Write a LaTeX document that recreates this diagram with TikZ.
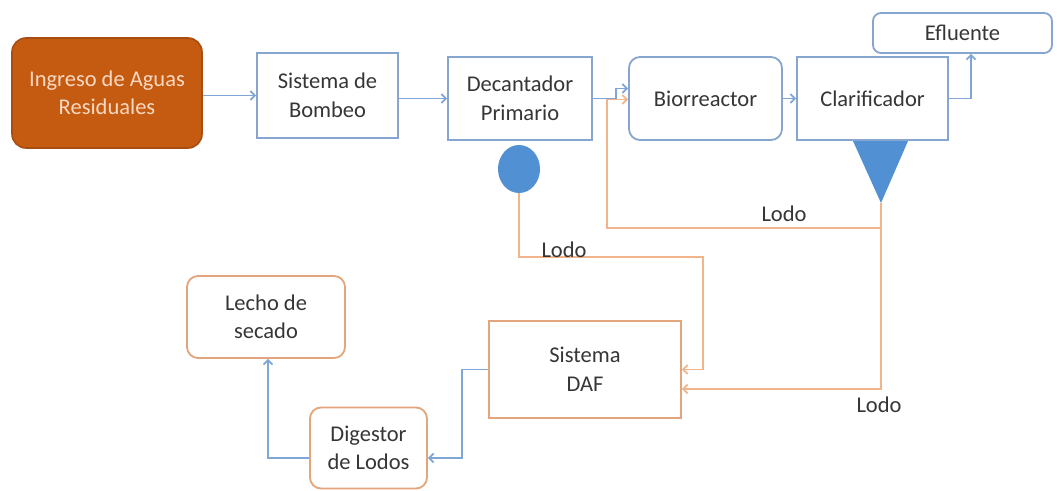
\documentclass[tikz,border=0pt]{standalone}
\usepackage{fontspec}
\setmainfont{Carlito}
\usetikzlibrary{arrows.meta,shapes.geometric}
\definecolor{bbord}{HTML}{86A5CF}
\definecolor{bline}{HTML}{7FA6D6}
\definecolor{bfill}{HTML}{5090D3}
\definecolor{obord}{HTML}{E3A57C}
\definecolor{oline}{HTML}{F2B48A}
\definecolor{brownfill}{HTML}{C55A11}
\definecolor{browndraw}{HTML}{A94E12}
\definecolor{peach}{HTML}{FAD9C2}
\definecolor{txt}{HTML}{363636}
\begin{document}
\begin{tikzpicture}[x=1pt,y=-1pt,
  lbl/.style={text=txt,font=\fontsize{22.5}{28.5}\selectfont,align=center,inner sep=0pt},
  bbox/.style={lbl,draw=bbord,line width=1.8pt},
  obox/.style={lbl,draw=obord,line width=1.8pt},
  bflow/.style={draw=bline,line width=1.7pt,-{Straight Barb[length=4.5pt,width=9pt]}},
  oflow/.style={draw=oline,line width=1.7pt,-{Straight Barb[length=4.5pt,width=9pt]}},
  oline/.style={draw=oline,line width=1.7pt}
]
\useasboundingbox (0,0) rectangle (1057,490);
\fill[white] (0,0) rectangle (1057,490);

\node[lbl,draw=browndraw,fill=brownfill,text=peach,line width=1.6pt,rounded corners=14pt,minimum width=190pt,minimum height=110pt] (ing) at (107,93) {Ingreso de Aguas\\Residuales};
\node[bbox,minimum width=141pt,minimum height=85pt] (bomb) at (327.5,95.5) {Sistema de\\Bombeo};
\node[bbox,minimum width=144pt,minimum height=83pt] (dec) at (520,98.5) {Decantador\\Primario};
\node[bbox,rounded corners=11pt,minimum width=153pt,minimum height=83pt] (bio) at (705.5,98.5) {Biorreactor};
\node[bbox,minimum width=151pt,minimum height=83pt] (cla) at (872.5,98.5) {Clarificador};
\node[bbox,rounded corners=8pt,minimum width=179pt,minimum height=40pt] (efl) at (962.5,33) {Efluente};
\node[ellipse,fill=bfill,minimum width=42pt,minimum height=48pt,inner sep=0pt] (circ) at (519,169) {};
\fill[bfill] (853,141) -- (908,141) -- (881,203) -- cycle;
\coordinate (tri) at (881,203);
\node[obox,minimum width=192pt,minimum height=97pt] (daf) at (585,369.5) {Sistema\\DAF};
\node[obox,rounded corners=11pt,minimum width=117pt,minimum height=81pt] (dig) at (368.5,448) {Digestor\\de Lodos};
\node[obox,rounded corners=11pt,minimum width=158pt,minimum height=82pt] (lec) at (266,317) {Lecho de\\secado};

% blue flow
\draw[bflow] (ing.east |- bomb.west) -- (bomb.west);
\draw[bflow] (dec.west -| bomb.east) -- (dec.west);
\draw[bflow] (dec.east) -- ++(23,0) |- ([yshift=10pt]bio.west);
\draw[bflow] (bio.east) -- (cla.west);
\draw[bflow] (cla.east) -| ([xshift=8.5pt]efl.south);
\draw[bflow] (daf.west) -- ++(-26,0) |- ([yshift=-10pt]dig.east);
\draw[bflow] ([yshift=-10pt]dig.west) -| ([xshift=2pt]lec.south);

% orange sludge lines
\coordinate (j1) at (881,228);
\coordinate (j2) at (607,228);
\coordinate (j3) at (703,257);
\draw[oline] (tri) -- (j1);
\draw[oflow] (j1) -- (j2) |- ([yshift=-1pt]bio.west);
\draw[oflow] (j1) |- ([yshift=-19.5pt]daf.east);
\draw[oflow] (circ.south) |- (j3) |- (daf.east);

\node[lbl] (l1) at (784,214) {Lodo};
\node[lbl] (l2) at (564,250) {Lodo};
\node[lbl] (l3) at (879,405) {Lodo};
\end{tikzpicture}
\end{document}
